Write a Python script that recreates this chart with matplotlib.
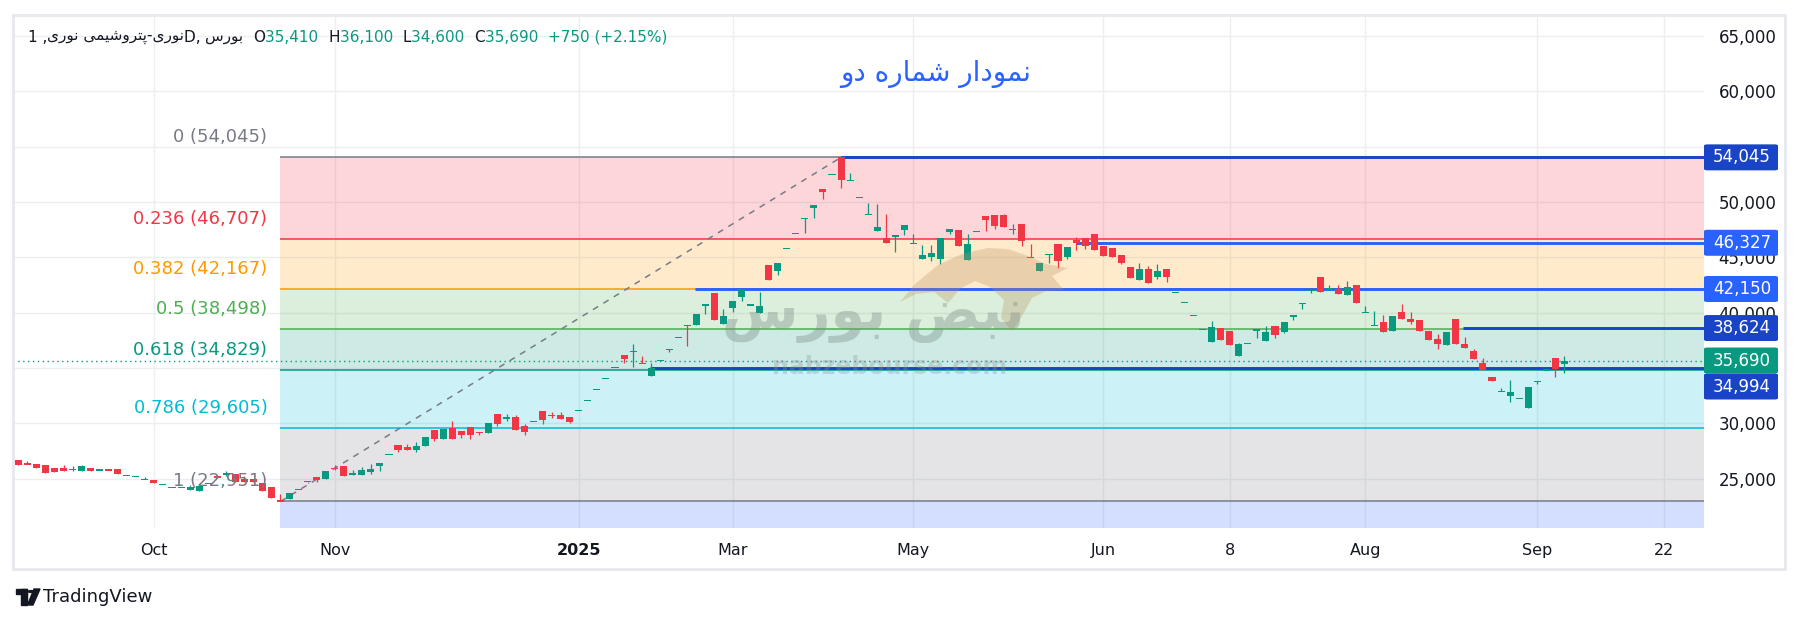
import matplotlib
matplotlib.use("Agg")
import matplotlib.pyplot as plt
import matplotlib.patches as mpatches
from matplotlib.ticker import FuncFormatter
import numpy as np

# ---------------- data ----------------
opens = [26684, 26340, 26322, 26232, 25960, 25960, 25840, 25750, 25960, 25780,
         25790, 25870, 25298, 25208, 24966, 24876, 24514, 24213, 24213, 24002,
         23912, 24575, 25298, 25418, 25418, 24997, 24997, 24665, 24243, 23010,
         23200, 24032, 24756, 25147, 24997, 25930, 26141, 25358, 25358, 25629,
         26172, 27196, 28040, 27859, 27618, 27979, 29395, 28612, 29576, 29305,
         29666, 29190, 29154, 30842, 30500, 30570, 29757, 30179, 31113, 30730,
         30751, 30570, 31203, 32107, 33071, 34066, 35060, 36145, 36500, 35430,
         34307, 35693, 36687, 37772, 38900, 38917, 40695, 41779, 39007, 40454,
         41447, 40695, 40002, 44310, 43798, 45817, 47173, 48529, 49493, 51150,
         52506, 54045, 51963, 50427, 48890, 47414, 46721, 46925, 47474, 46268,
         44852, 45063, 44852, 47293, 47473, 44762, 47353, 48739, 48829, 48829,
         47525, 48016, 45010, 43798, 45274, 46208, 45063, 46539, 46720, 47112,
         46027, 45816, 45213, 44129, 42984, 43948, 43225, 43948, 41839, 40935,
         39760, 38495, 37380, 38615, 38344, 36115, 37230, 38435, 37471, 38796,
         38284, 39610, 40845, 42020, 43225, 42141, 42110, 41628, 42502, 40032,
         38857, 39158, 38374, 40062, 39429, 39338, 38344, 37621, 37109, 39429,
         37169, 36537, 35422, 34186, 32891, 32499, 32258, 31414, 33795, 34820,
         35904, 35410]
highs = [26684, 26594, 26322, 26232, 25960, 26232, 26142, 26232, 25960, 25930,
         25900, 25870, 25298, 25208, 25208, 24876, 24514, 24213, 24213, 24484,
         24333, 24575, 25298, 25690, 25418, 25298, 24997, 24665, 24243, 23670,
         23701, 24032, 24756, 25147, 25750, 26292, 26141, 25780, 26050, 26322,
         26413, 27196, 28040, 28190, 28311, 28763, 29395, 29485, 30209, 29305,
         29666, 29190, 30028, 30842, 30812, 30721, 29968, 30179, 31113, 30992,
         31052, 30570, 31203, 32107, 33071, 34066, 35060, 36145, 37169, 36055,
         35422, 35693, 36687, 37772, 38900, 39881, 40695, 41779, 40303, 41056,
         42110, 40695, 41870, 44310, 44491, 45817, 47173, 48529, 49704, 51150,
         52506, 54045, 52596, 50427, 49885, 49824, 48920, 47022, 47896, 47112,
         46117, 46117, 46720, 47534, 47473, 47112, 47353, 48739, 48829, 48920,
         48016, 48016, 46208, 44460, 45274, 46208, 45907, 46871, 46720, 47112,
         46027, 45816, 45213, 44129, 44490, 44219, 44400, 43948, 41839, 40935,
         39760, 38495, 39248, 38615, 38344, 37260, 37230, 38435, 38796, 38796,
         39158, 39760, 40845, 42020, 43225, 42472, 42502, 42864, 42502, 40604,
         40152, 39790, 39700, 40785, 40062, 39338, 38344, 38073, 38254, 39429,
         37802, 36718, 35904, 34186, 33192, 33915, 32258, 33283, 33795, 34820,
         35904, 36100]
lows = [26262, 26322, 25990, 25509, 25629, 25720, 25720, 25750, 25720, 25780,
        25780, 25449, 25298, 25208, 24966, 24665, 24514, 24213, 24213, 24002,
        23912, 24575, 25087, 25238, 24695, 24755, 24755, 23942, 23279, 22951,
        23158, 24032, 24666, 24725, 24997, 25780, 25268, 25358, 25358, 25448,
        25720, 27196, 27437, 27618, 27437, 27979, 28401, 28612, 28612, 28702,
        28612, 28974, 29154, 29757, 30239, 29425, 28944, 30179, 29937, 30510,
        30420, 30028, 31203, 32107, 33071, 34066, 35060, 35482, 35120, 35422,
        34307, 35693, 36476, 37772, 37018, 38917, 39911, 39369, 39007, 40092,
        41086, 40695, 40002, 42984, 43437, 45817, 47173, 47233, 48589, 50306,
        52506, 51300, 51963, 50427, 48890, 47414, 46329, 45516, 47052, 46268,
        44852, 44702, 44400, 47142, 46057, 44762, 47353, 47413, 47594, 47714,
        47142, 46057, 45003, 43798, 44460, 44069, 44852, 45666, 45756, 45665,
        45153, 45063, 44370, 43165, 42984, 42713, 43074, 42803, 41839, 40935,
        39760, 38495, 37380, 37561, 37109, 36115, 37230, 37742, 37471, 37742,
        38133, 39369, 40363, 41809, 41899, 42141, 41719, 41628, 40906, 40032,
        38857, 38284, 38374, 39459, 39007, 38374, 37561, 36748, 37109, 37199,
        36838, 35844, 34849, 33855, 32891, 31957, 32258, 31414, 33584, 34820,
        34217, 34600]
closes = [26262, 26322, 25990, 25509, 25629, 25720, 25850, 26142, 25720, 25790,
          25780, 25449, 25298, 25208, 24966, 24665, 24514, 24213, 24213, 24273,
          24333, 24575, 25087, 25430, 24695, 24755, 24755, 23942, 23279, 23000,
          23690, 24032, 24756, 24876, 25750, 25900, 25268, 25509, 25780, 25870,
          26413, 27196, 27618, 27618, 27949, 28763, 28582, 29485, 28612, 28943,
          28974, 29184, 30028, 29967, 30510, 29425, 29245, 30179, 30330, 30720,
          30420, 30149, 31203, 32107, 33071, 34066, 35060, 35783, 36507, 35422,
          34970, 35693, 36687, 37772, 38870, 39881, 40695, 39369, 39700, 41056,
          42110, 40695, 40605, 42984, 44491, 45817, 47173, 48529, 49704, 50939,
          52506, 52024, 51963, 50427, 48890, 47715, 46329, 46932, 47896, 46268,
          45213, 45394, 46720, 47534, 46057, 46208, 47353, 48407, 47865, 47714,
          47533, 46509, 45003, 44460, 45274, 44701, 45907, 46328, 46057, 45665,
          45153, 45063, 44460, 43165, 43948, 42713, 43767, 43255, 41839, 40935,
          39760, 38495, 38706, 37561, 37109, 37169, 37230, 38435, 38254, 38013,
          39158, 39760, 40845, 42020, 41899, 42141, 41719, 42291, 40906, 40032,
          38857, 38284, 39700, 39459, 39188, 38374, 37561, 37199, 38254, 37199,
          36838, 35844, 34849, 33855, 32891, 32831, 32258, 33283, 33795, 34820,
          34940, 35690]

x_tick_bars = [15, 35, 62, 79, 99, 120, 134, 149, 168, 182]
x_tick_labels = ["Oct", "Nov", "2025", "Mar", "May", "Jun", "8", "Aug", "Sep", "22"]
y_ticks = [25000, 30000, 35000, 40000, 45000, 50000, 55000, 60000, 65000]
y_ticks_hidden = [35000, 55000]   # covered by the price tags in the reference

fib_ratios = [0, 0.236, 0.382, 0.5, 0.618, 0.786, 1]
fib_prices = [54045, 46707, 42167, 38498, 34829, 29605, 22951]
fib_start_bar = 29
trend_bars = [29, 91]
trend_prices = [22951, 54045]

hline_prices = [54045, 46327, 42150, 38624, 34994]
hline_start_bars = [91, 117, 74.8, 159.8, 69.9]
hline_dark = [True, False, False, True, True]
last_price = 35690

title_text = "نمودار شماره دو"
symbol_name = "نوری-پتروشیمی نوری"
exchange_name = "بورس"
ohlc_labels = ["O", "H", "L", "C"]
ohlc_values = ["35,410", "36,100", "34,600", "35,690"]
change_text = "+750 (+2.15%)"
watermark_fa = "نبض بورس"
watermark_en = "nabzebourse.com"

# ---------------- helpers ----------------
FORMS = {
    'ا': ('\uFE8D', '\uFE8E'), 'د': ('\uFEA9', '\uFEAA'),
    'ر': ('\uFEAD', '\uFEAE'), 'و': ('\uFEED', '\uFEEE'),
    'ب': ('\uFE8F', '\uFE90', '\uFE91', '\uFE92'),
    'ت': ('\uFE95', '\uFE96', '\uFE97', '\uFE98'),
    'س': ('\uFEB1', '\uFEB2', '\uFEB3', '\uFEB4'),
    'ش': ('\uFEB5', '\uFEB6', '\uFEB7', '\uFEB8'),
    'ض': ('\uFEBD', '\uFEBE', '\uFEBF', '\uFEC0'),
    'م': ('\uFEE1', '\uFEE2', '\uFEE3', '\uFEE4'),
    'ن': ('\uFEE5', '\uFEE6', '\uFEE7', '\uFEE8'),
    'ه': ('\uFEE9', '\uFEEA', '\uFEEB', '\uFEEC'),
    'پ': ('\uFB56', '\uFB57', '\uFB58', '\uFB59'),
    'ی': ('\uFBFC', '\uFBFD', '\uFBFE', '\uFBFF'),
}


def rtl(s):
    """Contextual Persian letter forms, laid out right to left."""
    out = []
    for i, ch in enumerate(s):
        f = FORMS.get(ch)
        if f is None:
            out.append(ch)
            continue
        prev = s[i - 1] if i > 0 else ''
        nxt = s[i + 1] if i + 1 < len(s) else ''
        jp = prev in FORMS and len(FORMS[prev]) == 4
        jn = len(f) == 4 and nxt in FORMS
        if jp and jn:
            g = f[3]
        elif jp:
            g = f[1]
        elif jn:
            g = f[2]
        else:
            g = f[0]
        out.append(g)
    return ''.join(reversed(out))


PW, PH = 1800, 623
GREEN = '#089981'
RED = '#f23645'
DARK_BLUE = '#1a44c8'
BLUE = '#2962ff'
TXT = '#131722'
FIB_COLORS = ['#787b86', '#f23645', '#ff9800', '#4caf50', '#089981', '#00bcd4', '#787b86']

plt.rcParams['font.family'] = ['DejaVu Sans']


def fx(px):
    return px / PW


def fy(py):
    return 1 - py / PH


fig = plt.figure(figsize=(PW / 100, PH / 100), dpi=100)
fig.patch.set_facecolor('white')

AX_L, AX_R, AX_T, AX_B = 13, 1704, 15, 528
ax = fig.add_axes([fx(AX_L), fy(AX_B), fx(AX_R - AX_L), (AX_B - AX_T) / PH])
XMIN, XMAX = -0.586, 186.45
ax.set_xlim(XMIN, XMAX)
ax.set_ylim(20556, 66908)
for sp in ax.spines.values():
    sp.set_visible(False)

ax.set_yticks(y_ticks)
ax.yaxis.tick_right()
ax.yaxis.set_major_formatter(
    FuncFormatter(lambda v, p: "" if int(round(v)) in y_ticks_hidden else f"{int(round(v)):,}"))
ax.tick_params(axis='y', length=0, pad=10.5, labelsize=12, labelcolor=TXT)
ax.set_xticks(x_tick_bars)
ax.set_xticklabels(x_tick_labels)
ax.tick_params(axis='x', length=0, pad=11, labelsize=11.5, labelcolor=TXT)
for lab in ax.get_xticklabels():
    if lab.get_text() == "2025":
        lab.set_fontweight('bold')
ax.grid(True, color='#eceef2', lw=1)
ax.set_axisbelow(True)

# ---------------- fibonacci ----------------
ylo = ax.get_ylim()[0]
bounds = fib_prices + [ylo]
band_cols = FIB_COLORS[1:] + [BLUE]
for i in range(len(fib_prices)):
    ax.fill_between([fib_start_bar, XMAX], bounds[i + 1], bounds[i],
                    color=band_cols[i], alpha=0.2, lw=0, zorder=1)
for p, c in zip(fib_prices, FIB_COLORS):
    ax.hlines(p, fib_start_bar, XMAX, color=c, lw=1.1, zorder=2)
for r, p, c in zip(fib_ratios, fib_prices, FIB_COLORS):
    ax.annotate(f"{r:g} ({p:,})", xy=(fib_start_bar, p), xytext=(-13, 20),
                textcoords='offset pixels', ha='right', va='center',
                fontsize=13, color=c, zorder=6)
ax.plot(trend_bars, trend_prices, color='#787b86', lw=1.1, ls=(0, (4, 4)), zorder=2)

# ---------------- horizontal lines ----------------
for p, s, d in zip(hline_prices, hline_start_bars, hline_dark):
    ax.hlines(p, s, XMAX, color=DARK_BLUE if d else BLUE, lw=2.1, zorder=3)
ax.axhline(last_price, color=GREEN, lw=1, ls=(0, (1, 2.5)), zorder=3)

# ---------------- candles ----------------
o = np.array(opens, float)
h = np.array(highs, float)
l = np.array(lows, float)
c = np.array(closes, float)
xs = np.arange(len(o))
cols = np.where(c >= o, GREEN, RED)
ax.vlines(xs, l, h, colors=cols, lw=0.9, zorder=4)
bot = np.minimum(o, c)
hgt = np.abs(c - o)
min_h = 115.0
small = hgt < min_h
bot = np.where(small, (o + c) / 2 - min_h / 2, bot)
hgt = np.where(small, min_h, hgt)
ax.bar(xs, hgt, bottom=bot, width=0.78, color=cols, lw=0, zorder=5)

# ---------------- watermark ----------------
bull = [(900, 302), (915, 284), (938, 265), (962, 254), (988, 248), (1008, 249),
        (1028, 256), (1046, 264), (1068, 268), (1052, 276), (1064, 290), (1046, 291),
        (1032, 298), (1022, 316), (1012, 331), (1001, 318), (1004, 300), (990, 287),
        (975, 281), (960, 289), (948, 303), (934, 292), (916, 294)]
fig.patches.append(mpatches.Polygon([(fx(a), fy(b)) for a, b in bull], closed=True,
                                    transform=fig.transFigure, facecolor='#b8925e',
                                    edgecolor='none', alpha=0.3, zorder=7))
fig.text(fx(873), fy(316), rtl(watermark_fa), fontsize=40, fontweight='bold',
         color='#7d8d85', alpha=0.38, ha='center', va='center', zorder=8)
fig.text(fx(890), fy(367), watermark_en, fontsize=17, fontweight='bold',
         color='#8c9490', alpha=0.32, ha='center', va='center', zorder=8)

# ---------------- price tags on the right axis ----------------
fig.canvas.draw()
BOX_H = 26
labels = []
for p, d in zip(hline_prices, hline_dark):
    labels.append((p, DARK_BLUE if d else BLUE))
labels.append((last_price, GREEN))


def ypix(v):
    return PH - ax.transData.transform((0, v))[1]


entries = sorted([(ypix(p), p, col) for p, col in labels])
placed = []
last_c = -1e9
for yc, p, col in entries:
    yc = max(yc, last_c + BOX_H)
    placed.append((yc, p, col))
    last_c = yc
for yc, p, col in placed:
    box = mpatches.FancyBboxPatch((fx(1704), fy(yc + BOX_H / 2)), fx(74), BOX_H / PH,
                                  boxstyle="round,pad=0,rounding_size=0.002",
                                  transform=fig.transFigure, facecolor=col,
                                  edgecolor='none', zorder=9)
    fig.patches.append(box)
    fig.text(fx(1742), fy(yc), f"{p:,}", color='white', fontsize=12,
             ha='center', va='center', zorder=10)

# ---------------- frame ----------------
frame = mpatches.Rectangle((fx(13), fy(569)), fx(1785 - 13), (569 - 15) / PH,
                           transform=fig.transFigure, fill=False,
                           edgecolor='#e6e8ee', lw=2, zorder=11)
fig.patches.append(frame)

# ---------------- legend row ----------------
renderer = fig.canvas.get_renderer()
pieces = [("1 ,", TXT), (rtl(symbol_name), TXT), ("D, ", TXT), (rtl(exchange_name), TXT), ("  ", TXT)]
for k, v in zip(ohlc_labels, ohlc_values):
    pieces.append((k, TXT))
    pieces.append((v + "  ", GREEN))
pieces.append((change_text, GREEN))
xcur = 27.6
for s, col in pieces:
    t = fig.text(fx(xcur), fy(37), s, fontsize=11, color=col, ha='left', va='center')
    bb = t.get_window_extent(renderer)
    xcur += bb.width

# ---------------- title ----------------
fig.text(fx(936), fy(74), rtl(title_text), fontsize=20, color=BLUE,
         ha='center', va='center')

# ---------------- TradingView logo ----------------
lk = '#131722'
for rect in [(16, 589, 11, 5), (21, 589, 6, 16)]:
    x0, y0, w0, h0 = rect
    fig.patches.append(mpatches.Rectangle((fx(x0), fy(y0 + h0)), fx(w0), h0 / PH,
                                          transform=fig.transFigure, color=lk))
fig.patches.append(mpatches.Circle((fx(31), fy(591.5)), 2.6 / PW,
                                   transform=fig.transFigure, color=lk))
fig.patches.append(mpatches.Polygon([(fx(34), fy(589)), (fx(40), fy(589)),
                                     (fx(33), fy(605)), (fx(27.5), fy(605))],
                                    closed=True, transform=fig.transFigure, color=lk))
fig.text(fx(43), fy(597), "TradingView", fontsize=13, color=lk, ha='left', va='center')

fig.savefig("out.png", dpi=100, facecolor='white')
